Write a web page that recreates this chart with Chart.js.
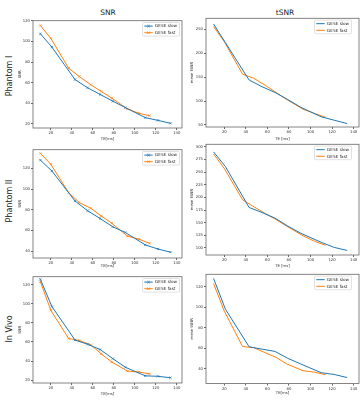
<!DOCTYPE html>
<html>
<head>
<meta charset="utf-8">
<script src="https://cdn.jsdelivr.net/npm/chart.js@4"></script>
<style>
  body { margin: 0; background: #fff; width: 363px; height: 400px; overflow: hidden; position: relative; font-family: "DejaVu Sans", sans-serif; }
  canvas { position: absolute; }
  .lbl { position: absolute; white-space: nowrap; color: #222; transform: translate(-50%, -50%); }
  .row { transform: translate(-50%, -50%) rotate(-90deg); font-size: 8px; }
  .col { font-size: 7.5px; }
</style>
</head>
<body>
<div class="lbl col" style="left:108px;top:12px">SNR</div>
<div class="lbl col" style="left:285px;top:12px">tSNR</div>
<div class="lbl row" style="left:9px;top:76px">Phantom I</div>
<div class="lbl row" style="left:9px;top:201px">Phantom II</div>
<div class="lbl row" style="left:9px;top:329px">In Vivo</div>

<canvas id="c1"></canvas>
<canvas id="c2"></canvas>
<canvas id="c3"></canvas>
<canvas id="c4"></canvas>
<canvas id="c5"></canvas>
<canvas id="c6"></canvas>

<script>
'use strict';

// Echozeiten (TE in ms)
const teSlow = [10, 21, 43, 55, 67, 79, 91, 110, 122, 134];
const teFast = [10, 20, 37, 47, 58, 68, 78, 93, 104, 114];

// Phantom I
const snr1Slow = [107.5, 94.5, 63, 55, 48.5, 42, 35.7, 26, 23.3, 20.5];
const snr1Fast = [115.5, 103, 74, 66, 58, 51.5, 45, 34.5, 30.2, 27.8];
const tsnr1Slow = [261, 222, 144, 130, 118, 103, 87, 67, 60, 53];
const tsnr1Fast = [256, 224, 156, 148, 133, 118, 103, 83, 74, 66];

// Phantom II
const snr2Slow = [128, 117.5, 88.5, 79, 71.5, 63.5, 58, 46, 42, 39];
const snr2Fast = [134.5, 124, 96.5, 87, 81.5, 74, 67, 54.5, 51.5, 47.5];
const tsnr2Slow = [290, 261, 180, 170, 159, 143, 129, 111, 101, 95];
const tsnr2Fast = [286, 257, 195, 182, 168, 156, 143, 124, 113, 105];

// In Vivo
const snr3Slow = [125.5, 97, 62, 57.5, 52, 42.5, 33.5, 24.5, 24, 22.5];
const snr3Fast = [123, 93, 63.5, 61.5, 57, 47.5, 39, 29.5, 28.5, 26.5];
const tsnr3Slow = [128, 98, 61.3, 59, 56.8, 50, 44.5, 36, 34.3, 31.3];
const tsnr3Fast = [123, 96, 61.5, 60.5, 55.5, 51, 44.5, 38, 36.5, 34];

const seriesNames = ['GESE slow', 'GESE fast'];
const colors = ['#1f77b4', '#ff7f0e'];

// Rahmen um die Plotfläche (wie matplotlib)
const frame = {
  id: 'frame',
  afterDatasetsDraw(chart) {
    const { ctx, chartArea: a } = chart;
    ctx.save();
    ctx.strokeStyle = '#666';
    ctx.lineWidth = 0.8;
    ctx.strokeRect(a.left, a.top, a.right - a.left, a.bottom - a.top);
    ctx.restore();
  },
};

// Legende oben rechts innerhalb der Plotfläche
const boxLegend = {
  id: 'boxLegend',
  afterDraw(chart, args, opts) {
    const { ctx, chartArea: a } = chart;
    const w = 37, h = 13.6;
    const x = a.right - opts.gap - w;
    const y = a.top + 1.8;
    ctx.save();
    ctx.fillStyle = 'rgba(255,255,255,0.85)';
    ctx.strokeStyle = '#ccc';
    ctx.lineWidth = 0.6;
    ctx.beginPath();
    ctx.roundRect(x, y, w, h, 1);
    ctx.fill();
    ctx.stroke();
    ctx.font = '4.2px "DejaVu Sans"';
    ctx.textBaseline = 'middle';
    chart.data.datasets.forEach((ds, i) => {
      const yy = y + 3.6 + i * 6.6;
      ctx.strokeStyle = ds.borderColor;
      ctx.lineWidth = 1;
      ctx.beginPath();
      ctx.moveTo(x + 1.8, yy);
      ctx.lineTo(x + 10.2, yy);
      ctx.stroke();
      if (opts.markers) {
        const cx = x + 6, r = 1.3;
        ctx.lineWidth = 0.7;
        ctx.beginPath();
        ctx.moveTo(cx - r, yy - r); ctx.lineTo(cx + r, yy + r);
        ctx.moveTo(cx - r, yy + r); ctx.lineTo(cx + r, yy - r);
        ctx.stroke();
      }
      ctx.fillStyle = '#222';
      ctx.fillText(ds.label, x + 12.6, yy + 0.2);
    });
    ctx.restore();
  },
};

const tickFont = { family: 'DejaVu Sans', size: 3.8 };

function makeChart(id, p) {
  const canvas = document.getElementById(id);
  canvas.width = p.cw;
  canvas.height = p.ch;
  canvas.style.left = p.cx + 'px';
  canvas.style.top = p.cy + 'px';

  const xs = [teSlow, teFast];
  const datasets = p.values.map((vals, i) => ({
    label: seriesNames[i],
    data: xs[i].map((x, j) => ({ x, y: vals[j] })),
    borderColor: colors[i],
    backgroundColor: colors[i],
    borderWidth: 1,
    pointStyle: 'crossRot',
    pointRadius: p.markers ? 1.6 : 0,
    pointBorderWidth: 0.7,
    tension: 0,
  }));

  return new Chart(canvas, {
    type: 'scatter',
    data: { datasets },
    options: {
      responsive: false,
      animation: false,
      showLine: true,
      layout: { padding: { top: p.t - p.cy, right: p.cx + p.cw - p.r, left: 0, bottom: 0 } },
      plugins: {
        legend: { display: false },
        tooltip: { enabled: false },
        boxLegend: { gap: p.gap, markers: p.markers },
      },
      scales: {
        x: {
          type: 'linear',
          min: 3,
          max: 145,
          afterFit: s => { s.height = p.cy + p.ch - p.b; },
          border: { display: false },
          grid: { drawOnChartArea: false, drawTicks: true, tickLength: 2, color: '#666' },
          ticks: { stepSize: 20, includeBounds: false, padding: 1, font: tickFont, color: '#333', maxRotation: 0 },
          title: { display: true, text: p.xTitle, font: tickFont, color: '#333', padding: { top: 0, bottom: 0.8 } },
        },
        y: {
          min: p.yMin,
          max: p.yMax,
          afterFit: s => { s.width = p.l - p.cx; },
          border: { display: false },
          grid: { drawOnChartArea: false, drawTicks: true, tickLength: 2, color: '#666' },
          ticks: { stepSize: p.yStep, includeBounds: false, padding: 1, font: tickFont, color: '#333' },
          title: { display: true, text: p.yTitle, font: tickFont, color: '#333', padding: { top: p.yTitlePad, bottom: 0 } },
        },
      },
    },
    plugins: [frame, boxLegend],
  });
}

const left = { cx: 10, cw: 180, l: 33, r: 182, gap: 2.5, yTitlePad: 7.7 };
const right = { cx: 183, cw: 180, l: 206, r: 359, gap: 7.5, yTitlePad: 6.7 };

makeChart('c1', Object.assign({}, left, {
  cy: 16, ch: 126, t: 19, b: 128, yMin: 15.9, yMax: 120.2, yStep: 20,
  xTitle: 'TE[ms]', yTitle: 'SNR', markers: true, values: [snr1Slow, snr1Fast],
}));
makeChart('c2', Object.assign({}, right, {
  cy: 15, ch: 127, t: 18, b: 127, yMin: 45.8, yMax: 273, yStep: 50,
  xTitle: 'TE [ms]', yTitle: 'mean tSNR', markers: false, values: [tsnr1Slow, tsnr1Fast],
}));
makeChart('c3', Object.assign({}, left, {
  cy: 145, ch: 124, t: 148, b: 258, yMin: 33.3, yMax: 138.1, yStep: 20,
  xTitle: 'TE[ms]', yTitle: 'SNR', markers: true, values: [snr2Slow, snr2Fast],
}));
makeChart('c4', Object.assign({}, right, {
  cy: 141, ch: 128, t: 144, b: 255, yMin: 86, yMax: 305, yStep: 25,
  xTitle: 'TE [ms]', yTitle: 'mean tSNR', markers: false, values: [tsnr2Slow, tsnr2Fast],
}));
makeChart('c5', Object.assign({}, left, {
  cy: 272, ch: 125, t: 275, b: 383, yMin: 17, yMax: 128.2, yStep: 20,
  xTitle: 'TE[ms]', yTitle: 'SNR', markers: true, values: [snr3Slow, snr3Fast],
}));
makeChart('c6', Object.assign({}, right, {
  cy: 271, ch: 125, t: 274, b: 383.5, yMin: 25.5, yMax: 132, yStep: 20,
  xTitle: 'TE[ms]', yTitle: 'mean tSNR', markers: false, values: [tsnr3Slow, tsnr3Fast],
}));
</script>
</body>
</html>
